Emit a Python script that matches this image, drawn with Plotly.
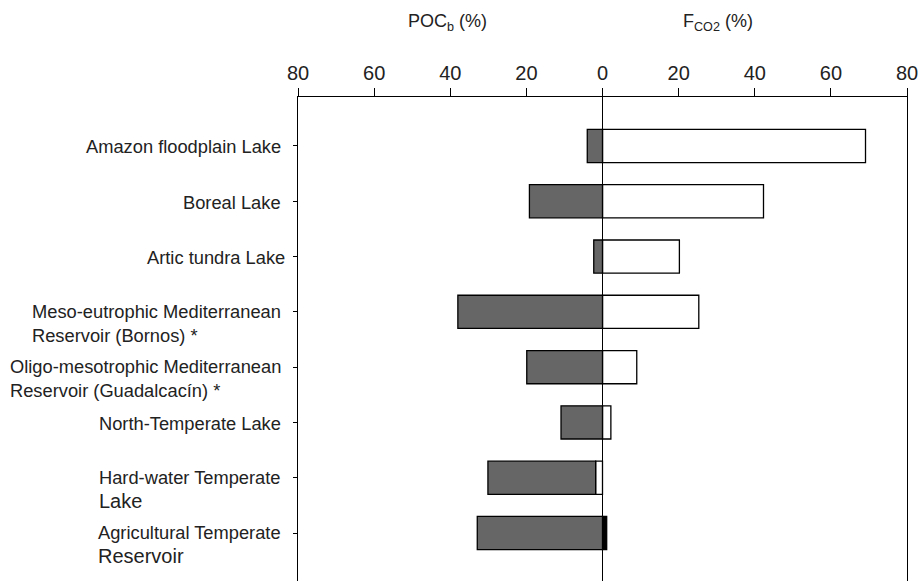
import plotly.graph_objects as go

categories = [
    "Amazon floodplain Lake",
    "Boreal Lake",
    "Artic tundra Lake",
    "Meso-eutrophic Mediterranean<br>Reservoir (Bornos) *",
    "Oligo-mesotrophic Mediterranean<br>Reservoir (Guadalcacín) *",
    "North-Temperate Lake",
    "Hard-water Temperate<br><span style='font-size:20px'>Lake</span>",
    "Agricultural Temperate<br><span style='font-size:20px'>Reservoir</span>",
]
# POC_b (%) drawn to the left (negative side), F_CO2 (%) to the right
poc_b = [4.0, 19.2, 2.3, 38.0, 19.9, 10.9, 28.3, 32.9]
f_co2 = [69.1, 42.3, 20.2, 25.3, 9.0, 2.2, -1.8, 1.1]

tick_vals = [-80, -60, -40, -20, 0, 20, 40, 60, 80]
tick_text = ["80", "60", "40", "20", "0", "20", "40", "60", "80"]

FONT = "Liberation Sans, Arial, sans-serif"
idx = list(range(len(categories)))

fig = go.Figure()
fig.add_trace(go.Bar(
    y=idx, x=f_co2, orientation="h", width=0.6,
    marker=dict(color=["white"] * (len(f_co2) - 1) + ["black"],
                line=dict(color="black", width=1.3)),
    name="F_CO2", showlegend=False,
))
fig.add_trace(go.Bar(
    y=idx, x=[-v for v in poc_b], orientation="h", width=0.6,
    marker=dict(color="#666666", line=dict(color="black", width=1.3)),
    name="POC_b", showlegend=False,
))

annotations = []
for i, lab in enumerate(categories):
    two = "<br>" in lab
    annotations.append(dict(
        text=lab, xref="paper", yref="y", x=0, y=i,
        xanchor="right", yanchor="middle", align="left",
        xshift=-15 + (4 if i == 2 else 0), yshift=-11.5 if two else -1,
        showarrow=False, font=dict(family=FONT, size=18.3, color="#222"),
    ))
annotations.append(dict(
    text="POC<sub>b</sub> (%)", xref="x", yref="paper", x=-40.6, y=1,
    yanchor="middle", yshift=75, showarrow=False,
    font=dict(family=FONT, size=18, color="#222"),
))
annotations.append(dict(
    text="F<sub>CO2</sub> (%)", xref="x", yref="paper", x=30.3, y=1,
    yanchor="middle", yshift=75, showarrow=False,
    font=dict(family=FONT, size=18, color="#222"),
))

fig.update_layout(
    width=922, height=581,
    margin=dict(l=298, r=15, t=97, b=0, pad=0),
    barmode="relative",
    bargap=0.4,
    paper_bgcolor="white", plot_bgcolor="white",
    font=dict(family=FONT, color="#222"),
    annotations=annotations,
    xaxis=dict(
        side="top", range=[-80, 80], tickvals=tick_vals, ticktext=tick_text,
        ticks="outside", ticklen=8, tickcolor="black", tickwidth=1,
        showline=True, linecolor="black", linewidth=1,
        showgrid=False, zeroline=True, zerolinecolor="black", zerolinewidth=1,
        tickfont=dict(family=FONT, size=20, color="#222"),
        layer="above traces", fixedrange=True, automargin=False,
    ),
    yaxis=dict(
        range=[7.868, -0.886], tickvals=idx, showticklabels=False,
        ticks="outside", ticklen=4, tickcolor="black",
        showline=True, mirror=True, linecolor="black", linewidth=1,
        showgrid=False, zeroline=False, fixedrange=True, automargin=False,
    ),
)

fig.write_html(
    "out.html",
    config={"displayModeBar": False},
    post_script="document.body.style.margin='0';document.body.style.overflow='hidden';",
)
